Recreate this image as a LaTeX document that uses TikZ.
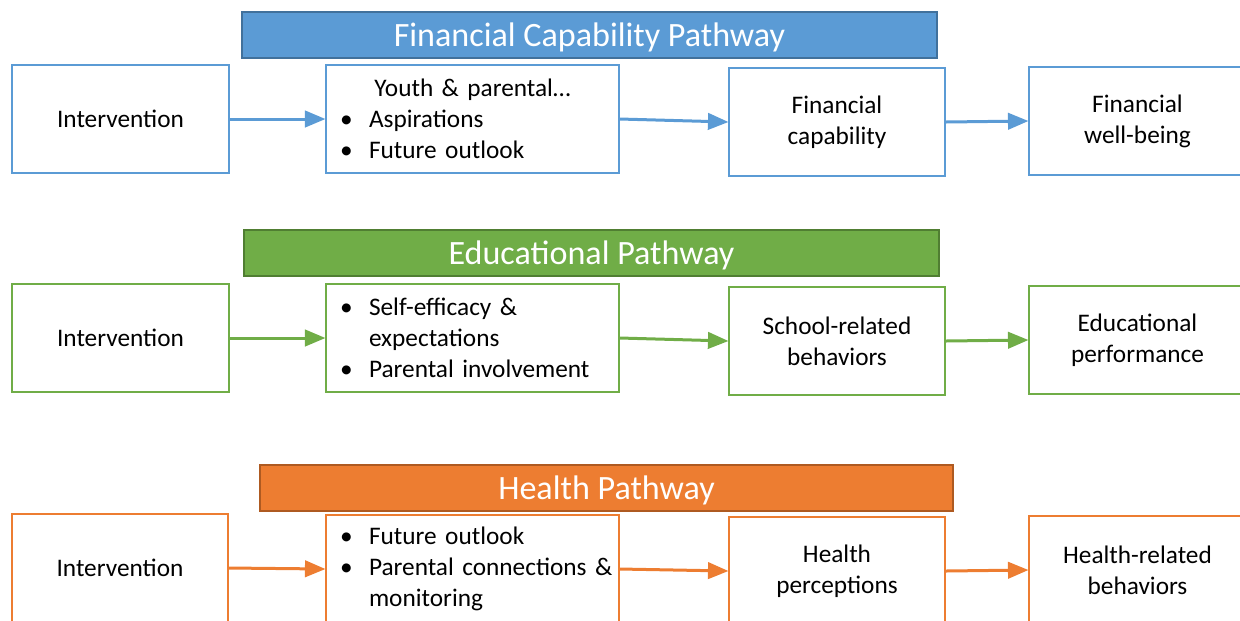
\documentclass[tikz,border=0pt]{standalone}
\usepackage{fontspec}
\setmainfont{Carlito}
\usepackage{tikz}
\usetikzlibrary{arrows}
\definecolor{fcblue}{HTML}{5B9BD5}
\definecolor{fcbluedk}{HTML}{41719C}
\definecolor{edgreen}{HTML}{70AD47}
\definecolor{edgreendk}{HTML}{507E32}
\definecolor{hlorange}{HTML}{ED7D31}
\definecolor{hlorangedk}{HTML}{AE5A21}
\newcommand{\bitem}[1]{\makebox[5.8mm][l]{\textbullet}\mbox{#1}}
\newcommand{\bcont}{\hspace*{5.8mm}}

\begin{document}
\begin{tikzpicture}[line cap=butt,line join=miter,>=triangle 45,x=0.02cm,y=-0.02cm,
  bar/.style={draw=#1dk,fill=#1,line width=0.25mm,text=white,minimum height=9.2mm,inner sep=0pt,text depth=0pt,font=\fontsize{19.4}{22}\selectfont},
  box/.style={draw=#1,line width=0.3mm,fill=white,minimum height=21.6mm,inner sep=0pt,align=center,font=\fontsize{14.4}{17.6}\selectfont},
  lbox/.style={box=#1,text width=53mm,inner xsep=2.8mm,inner ysep=0pt,align=left},
  link/.style={->,draw=#1,line width=0.6mm}]
\useasboundingbox (0,0) rectangle (1240,620);
\clip (0,0) rectangle (1240,620);
% financial capability
\node[bar=fcblue,minimum width=139mm] (fcbar) at (589.5,35) {Financial Capability Pathway};
\node[box=fcblue,minimum width=43.4mm] (fc1) at (120.5,119) {Intervention};
\node[lbox=fcblue] (fc2) at (472.5,119) {\makebox[53mm]{Youth \& parental\ldots}\\ \bitem{Aspirations}\\ \bitem{Future outlook}};
\node[box=fcblue,minimum width=43.2mm] (fc3) at (837,122) {Financial\\capability};
\node[box=fcblue,minimum width=43.4mm] (fc4) at (1137.5,121) {Financial\\well-being};
\draw[link=fcblue] (fc1.east) -- (fc2.west);
\draw[link=fcblue] (fc2.east) -- (fc3.west);
\draw[link=fcblue] (fc3.east) -- (fc4.west);
% educational
\node[bar=edgreen,minimum width=139mm] (edbar) at (591.5,253) {Educational Pathway};
\node[box=edgreen,minimum width=43.4mm] (ed1) at (120.5,338) {Intervention};
\node[lbox=edgreen] (ed2) at (472.5,338) {\bitem{Self-efficacy \&}\\ \bcont expectations\\ \bitem{Parental involvement}};
\node[box=edgreen,minimum width=43.2mm] (ed3) at (837,341) {School-related\\behaviors};
\node[box=edgreen,minimum width=43.4mm] (ed4) at (1137.5,340) {Educational\\performance};
\draw[link=edgreen] (ed1.east) -- (ed2.west);
\draw[link=edgreen] (ed2.east) -- (ed3.west);
\draw[link=edgreen] (ed3.east) -- (ed4.west);
% health
\node[bar=hlorange,minimum width=138.6mm] (hlbar) at (606.5,488) {Health Pathway};
\node[box=hlorange,minimum width=43.2mm] (hl1) at (120,568) {Intervention};
\node[lbox=hlorange] (hl2) at (472.5,569) {\bitem{Future outlook}\\ \bitem{Parental connections \&}\\ \bcont monitoring};
\node[box=hlorange,minimum width=43.2mm] (hl3) at (837,571) {Health\\perceptions};
\node[box=hlorange,minimum width=43.4mm] (hl4) at (1137.5,570) {Health-related\\behaviors};
\draw[link=hlorange] (hl1.east) -- (hl2.west);
\draw[link=hlorange] (hl2.east) -- (hl3.west);
\draw[link=hlorange] (hl3.east) -- (hl4.west);
\end{tikzpicture}
\end{document}
